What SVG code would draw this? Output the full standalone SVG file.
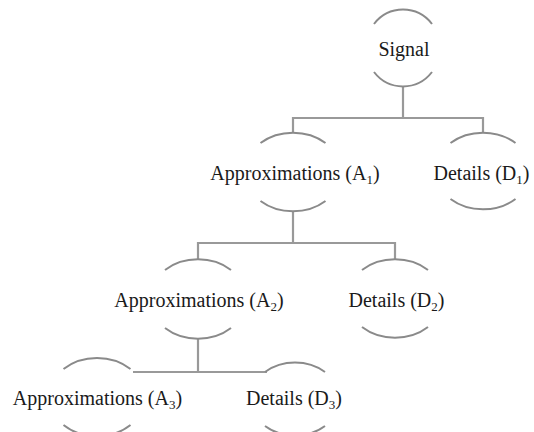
<svg xmlns="http://www.w3.org/2000/svg" width="534" height="432" viewBox="0 0 534 432">
<style>
.arc{fill:none;stroke:#8a8a8a;stroke-width:2}
.conn{fill:none;stroke:#999;stroke-width:2.2}
.lbl{font-family:"Liberation Serif","Times New Roman",serif;font-size:20px;fill:#1a1a1a;text-anchor:middle}
.sub{font-size:13px}
</style>
<rect width="534" height="432" fill="#fff"/>
<g id="connectors">
<path class="conn" d="M403,86 V118 M293,118 H483 M293,117 V133 M483,117 V132"/>
<path class="conn" d="M293,211 V243 M198,243 H395 M198,242 V260 M395,242 V260"/>
<path class="conn" d="M198,338 V372 M133,372 H267"/>
</g>
<g id="signal">
<path class="arc" d="M374,24 A37 38 0 0 1 432,24 M374,72 A37 38 0 0 0 432,72"/>
<text class="lbl" x="404" y="56">Signal</text>
</g>
<g id="a1">
<path class="arc" d="M260.5,143 A48 39 0 0 1 325.5,143 M260.5,201 A48 39 0 0 0 325.5,201"/>
<text class="lbl" x="295" y="180">Approximations (A<tspan class="sub" dy="4">1</tspan><tspan dy="-4">)</tspan></text>
</g>
<g id="d1">
<path class="arc" d="M450.5,143 A48 39 0 0 1 515.5,143 M450.5,199 A48 39 0 0 0 515.5,199"/>
<text class="lbl" x="481.5" y="180">Details (D<tspan class="sub" dy="4">1</tspan><tspan dy="-4">)</tspan></text>
</g>
<g id="a2">
<path class="arc" d="M165,270 A48 39 0 0 1 231,270 M165,328 A48 39 0 0 0 231,328"/>
<text class="lbl" x="199" y="307">Approximations (A<tspan class="sub" dy="4">2</tspan><tspan dy="-4">)</tspan></text>
</g>
<g id="d2">
<path class="arc" d="M362,270 A48 39 0 0 1 428,270 M362,327 A48 39 0 0 0 428,327"/>
<text class="lbl" x="396.5" y="307">Details (D<tspan class="sub" dy="4">2</tspan><tspan dy="-4">)</tspan></text>
</g>
<g id="a3">
<path class="arc" d="M63.5,369 A48 39 0 0 1 130.5,369 M63.5,425 A48 39 0 0 0 130.5,425"/>
<text class="lbl" x="97.5" y="405">Approximations (A<tspan class="sub" dy="4">3</tspan><tspan dy="-4">)</tspan></text>
</g>
<g id="d3">
<path class="arc" d="M265,372 A46 39 0 0 1 325,372 M265,426 A46 39 0 0 0 325,426"/>
<text class="lbl" x="294" y="405">Details (D<tspan class="sub" dy="4">3</tspan><tspan dy="-4">)</tspan></text>
</g>
</svg>
